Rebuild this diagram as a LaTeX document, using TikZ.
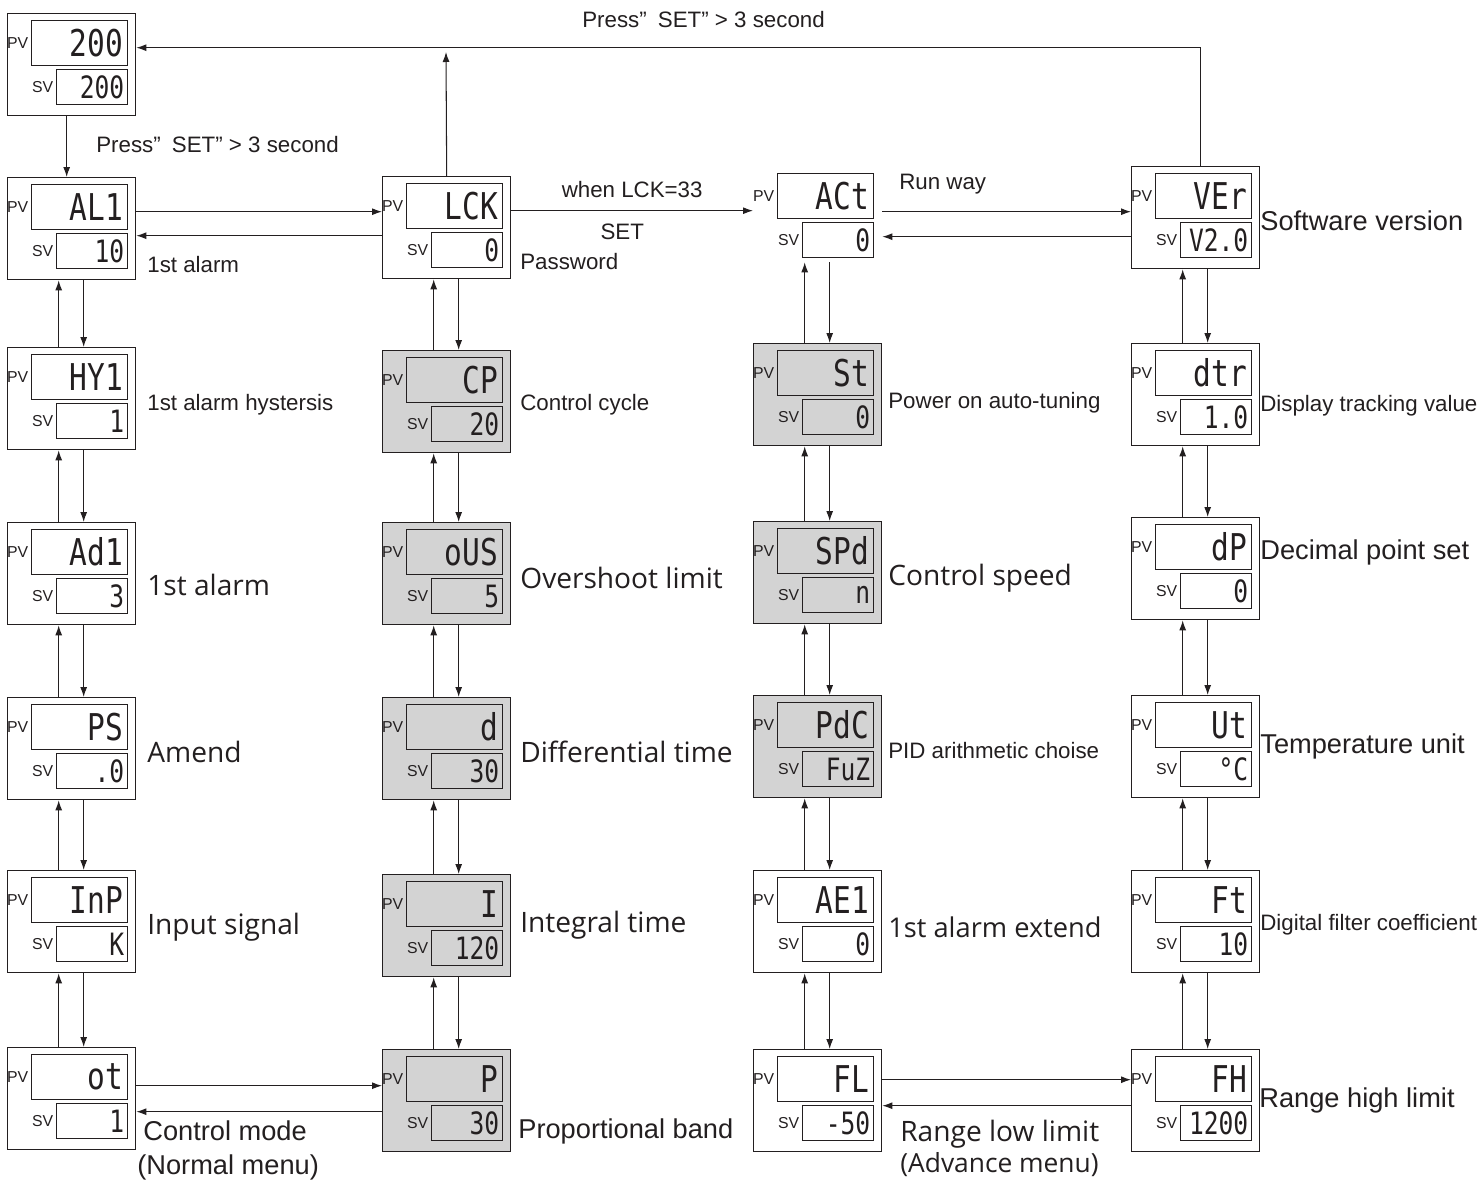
\documentclass[tikz,border=0pt]{standalone}
\usepackage{fontspec}
\setmainfont{Liberation Sans}
\newfontfamily\opensans{Open Sans}
\newfontfamily\segfont[FakeStretch=0.8]{DejaVu Sans Mono}
\usepackage{xcolor}
\usetikzlibrary{arrows.meta,positioning}
\definecolor{Ink}{HTML}{231F20}
\definecolor{Panel}{HTML}{D3D3D3}

\newcommand{\menubox}[6]{%
  \node[#1, anchor=north west] (#2) at (#3,#4) {};
  \node[pvdisp, anchor=north east] (#2pv) at ([xshift=-0.16cm,yshift=-0.14cm]#2.north east) {#5};
  \node[svdisp, anchor=north east] (#2sv) at ([xshift=-0.16cm,yshift=-1.12cm]#2.north east) {#6};
  \node[tag, anchor=east] at (#2pv.west) {PV};
  \node[tag, anchor=east] at (#2sv.west) {SV};
}

\begin{document}
\begin{tikzpicture}[
  x=0.02cm, y=-0.02cm,
  panel/.style={draw=Ink, line width=0.8pt, fill=white,
    minimum width=2.56cm, minimum height=2.04cm, inner sep=0pt},
  shaded/.style={panel, fill=Panel},
  ghost/.style={panel, draw=none, minimum height=1.9cm},
  pvdisp/.style={draw=Ink, line width=0.7pt, minimum width=1.92cm,
    minimum height=0.9cm, inner sep=0pt, text width=1.74cm, align=right,
    text=Ink, font=\segfont\fontsize{21}{21}\selectfont},
  svdisp/.style={draw=Ink, line width=0.7pt, minimum width=1.42cm,
    minimum height=0.7cm, inner sep=0pt, text width=1.28cm, align=right,
    text=Ink, font=\segfont\fontsize{17.5}{18}\selectfont},
  tag/.style={font=\fontsize{9}{10}\selectfont, text=Ink, inner sep=1.5pt},
  lblS/.style={font=\fontsize{12.7}{15}\selectfont, text=Ink, inner sep=0pt, anchor=west},
  lblM/.style={font=\fontsize{15.5}{18}\selectfont, text=Ink, inner sep=0pt, anchor=west},
  lblL/.style={font=\opensans\fontsize{16}{19}\selectfont, text=Ink, inner sep=0pt, anchor=west},
  flow/.style={-{Latex[length=2mm, width=1.4mm]}, line width=0.6pt, draw=Ink}
]
  \useasboundingbox[fill=white] (0,0) rectangle (1484,1183);

  % normal menu
  \menubox{panel}{home}{7}{13}{200}{200}
  \menubox{panel}{al}{7}{177}{AL1}{10}
  \menubox{panel}{hy}{7}{347}{HY1}{1}
  \menubox{panel}{ad}{7}{522}{Ad1}{3}
  \menubox{panel}{ps}{7}{697}{PS}{.0}
  \menubox{panel}{inp}{7}{870}{InP}{K}
  \menubox{panel}{ot}{7}{1047}{ot}{1}

  \menubox{panel}{lck}{382}{176}{LCK}{0}
  \menubox{shaded}{cp}{382}{350}{CP}{20}
  \menubox{shaded}{ous}{382}{522}{oUS}{5}
  \menubox{shaded}{dd}{382}{697}{d}{30}
  \menubox{shaded}{ii}{382}{874}{I}{120}
  \menubox{shaded}{pp}{382}{1049}{P}{30}

  % advance menu
  \menubox{ghost}{act}{753}{166}{ACt}{0}
  \menubox{shaded}{st}{753}{343}{St}{0}
  \menubox{shaded}{spd}{753}{521}{SPd}{n}
  \menubox{shaded}{pdc}{753}{695}{PdC}{FuZ}
  \menubox{panel}{ae}{753}{870}{AE1}{0}
  \menubox{panel}{fl}{753}{1049}{FL}{-50}

  \menubox{panel}{ver}{1131}{166}{VEr}{V2.0}
  \menubox{panel}{dtr}{1131}{343}{dtr}{1.0}
  \menubox{panel}{dp}{1131}{517}{dP}{0}
  \menubox{panel}{ut}{1131}{695}{Ut}{°C}
  \menubox{panel}{ft}{1131}{870}{Ft}{10}
  \menubox{panel}{fh}{1131}{1049}{FH}{1200}

  \foreach \a/\b in {al/hy, hy/ad, ad/ps, ps/inp, inp/ot,
                     lck/cp, cp/ous, ous/dd, dd/ii, ii/pp,
                     act/st, st/spd, spd/pdc, pdc/ae, ae/fl,
                     ver/dtr, dtr/dp, dp/ut, ut/ft, ft/fh} {
    \draw[flow] ([xshift=-0.26cm]\b.north) -- ([xshift=-0.26cm]\b.north |- \a.south);
    \draw[flow] ([xshift=0.24cm]\b.north |- \a.south) -- ([xshift=0.24cm]\b.north);
  }

  \coordinate (lckup) at (446,52);
  \draw[flow] ([xshift=-0.1cm]home.south) -- ([xshift=-0.1cm]al.north);
  \draw[flow] (lck.north) -- (lckup);
  \draw[flow] ([xshift=0.1cm]ver.north) |- ([yshift=0.34cm]home.east);

  \draw[flow] ([yshift=0.34cm]al.east) -- ([yshift=0.34cm]al.east -| lck.west);
  \draw[flow] ([yshift=-0.16cm]lck.west) -- ([yshift=-0.16cm]lck.west -| al.east);
  \draw[flow] ([yshift=0.34cm]lck.east) --
    node[lblS, anchor=south, yshift=7pt] {when LCK=33}
    node[lblS, anchor=north, yshift=-7pt, xshift=-0.2cm] {SET}
    ([yshift=0.34cm]lck.east -| act.west);
  \draw[flow] ([yshift=0.12cm]ver.west -| act.east) -- ([yshift=0.12cm]ver.west);
  \draw[flow] ([yshift=-0.38cm]ver.west) -- ([yshift=-0.38cm]ver.west -| act.east);
  \draw[flow] ([yshift=0.26cm]ot.east) -- ([yshift=0.26cm]ot.east -| pp.west);
  \draw[flow] ([yshift=-0.22cm]pp.west) -- ([yshift=-0.22cm]pp.west -| ot.east);
  \draw[flow] ([yshift=0.42cm]fl.east) -- ([yshift=0.42cm]fl.east -| fh.west);
  \draw[flow] ([yshift=-0.1cm]fh.west) -- ([yshift=-0.1cm]fh.west -| fl.east);

  \node[lblS] (presstop) at (582,20) {Press”\hspace{0.5em}SET” > 3 second};
  \node[lblS] (pressleft) at (96,145) {Press”\hspace{0.5em}SET” > 3 second};
  \node[lblS] (pwd) at (520,262) {Password};
  \node[lblS] (runway) at (899,184) {Run way};

  \node[lblS] (t-al) at (147,265) {1st alarm};
  \node[lblS] (t-hy) at (147,405) {1st alarm hystersis};
  \node[lblL] (t-ad) at (147,585) {1st alarm};
  \node[lblL] (t-ps) at (147,752) {Amend};
  \node[lblL] (t-inp) at (147,927) {Input signal};
  \node[lblM] (t-ot) at (143,1131) {Control mode};
  \node[lblM] (t-normal) at (137,1167) {(Normal menu)};

  \node[lblS] (t-cp) at (520,405) {Control cycle};
  \node[lblL] (t-ous) at (520,578) {Overshoot limit};
  \node[lblL] (t-dd) at (520,752) {Differential time};
  \node[lblL] (t-ii) at (520,925) {Integral time};
  \node[lblM] (t-pp) at (518,1131) {Proportional band};

  \node[lblS] (t-st) at (888,403) {Power on auto-tuning};
  \node[lblL] (t-spd) at (888,578) {Control speed};
  \node[lblS] (t-pdc) at (888,751) {PID arithmetic choise};
  \node[lblL, font=\opensans\fontsize{15.5}{18}\selectfont] (t-ae) at (888,927) {1st alarm extend};
  \node[lblL] (t-fl) at (900,1134) {Range low limit};
  \node[lblL, font=\opensans\fontsize{15}{18}\selectfont] (t-adv) at (900,1165) {(Advance menu)};

  \node[lblM] (t-ver) at (1260,221) {Software version};
  \node[lblS] (t-dtr) at (1260,406) {Display tracking value};
  \node[lblM] (t-dp) at (1260,552) {Decimal point set};
  \node[lblM] (t-ut) at (1260,746) {Temperature unit};
  \node[lblS] (t-ft) at (1260,925) {Digital filter coefficient};
  \node[lblM] (t-fh) at (1259,1100) {Range high limit};
\end{tikzpicture}
\end{document}
